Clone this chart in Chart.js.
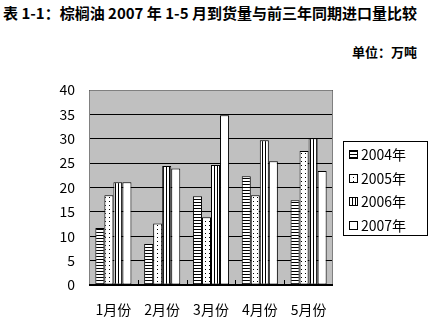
<!DOCTYPE html>
<html>
<head>
<meta charset="utf-8">
<script src="https://cdn.jsdelivr.net/npm/chart.js@4"></script>
<style>
  body { margin: 0; background: #fff; }
  #wrap { position: relative; width: 440px; height: 325px; }
  #title { position: absolute; left: 3px; top: 2px; font: bold 15px "Noto Sans CJK SC", sans-serif; white-space: nowrap; color: #000; transform-origin: 0 0; }
  #unit { position: absolute; left: 352px; top: 42px; font: bold 13px "Noto Sans CJK SC", sans-serif; white-space: nowrap; color: #000; }
  canvas { position: absolute; left: 0; top: 0; }
</style>
</head>
<body>
<div id="wrap">
  <div id="title">表 1-1：棕榈油 2007 年 1-5 月到货量与前三年同期进口量比较</div>
  <div id="unit">单位：万吨</div>
  <canvas id="chart" width="440" height="325"></canvas>
</div>
<script>
// data (万吨)
const months = ["1月份", "2月份", "3月份", "4月份", "5月份"];
const seriesNames = ["2004年", "2005年", "2006年", "2007年"];
const y2004 = [11.7, 8.4, 18.2, 22.3, 17.4];
const y2005 = [18.4, 12.6, 13.9, 18.4, 27.5];
const y2006 = [21.1, 24.4, 24.6, 29.7, 30.1];
const y2007 = [21.1, 23.9, 34.8, 25.4, 23.4];

// squeeze the title into the line if the font runs wide
const titleEl = document.getElementById("title");
const tw = titleEl.getBoundingClientRect().width;
if(tw > 428) titleEl.style.transform = "scaleX(" + (428 / tw) + ")";

// fill patterns
function makePattern(kind){
  const c = document.createElement("canvas");
  const ctx = c.getContext("2d");
  if(kind === "h"){ c.width = 3; c.height = 3; }
  else if(kind === "v"){ c.width = 3; c.height = 3; }
  else if(kind === "dot"){ c.width = 4; c.height = 4; }
  else { c.width = 2; c.height = 2; }
  ctx.fillStyle = "#fff";
  ctx.fillRect(0, 0, c.width, c.height);
  ctx.fillStyle = "#000";
  if(kind === "h") ctx.fillRect(0, 1, 3, 1);
  if(kind === "v") ctx.fillRect(1, 0, 1, 3);
  if(kind === "dot") ctx.fillRect(1, 1, 1, 1);
  return ctx.createPattern(c, "repeat");
}

const fills = [makePattern("h"), makePattern("dot"), makePattern("v"), "#ffffff"];
const values = [y2004, y2005, y2006, y2007];

const datasets = seriesNames.map((name, i) => ({
  label: name,
  data: values[i],
  backgroundColor: fills[i],
  borderColor: "#000",
  borderWidth: 1,
  borderSkipped: false,
  categoryPercentage: 0.74,
  barPercentage: 1.0
}));

const FONT = "Noto Sans CJK SC";

// gray plot background, border, small x ticks, boxed legend
const excelLook = {
  id: "excelLook",
  beforeDraw(chart){
    const {ctx, chartArea: a} = chart;
    ctx.save();
    ctx.fillStyle = "#c0c0c0";
    ctx.fillRect(a.left, a.top, a.right - a.left, a.bottom - a.top);
    ctx.restore();
  },
  afterDatasetsDraw(chart){
    const {ctx, chartArea: a, scales} = chart;
    ctx.save();
    ctx.strokeStyle = "#808080";
    ctx.lineWidth = 1;
    ctx.beginPath();
    ctx.moveTo(a.left + 0.5, a.bottom);
    ctx.lineTo(a.left + 0.5, a.top + 0.5);
    ctx.lineTo(a.right - 0.5, a.top + 0.5);
    ctx.lineTo(a.right - 0.5, a.bottom);
    ctx.stroke();
    // bottom axis + ticks between categories
    ctx.strokeStyle = "#000";
    ctx.beginPath();
    ctx.moveTo(a.left, a.bottom - 0.5);
    ctx.lineTo(a.right, a.bottom - 0.5);
    const x = scales.x;
    const step = (a.right - a.left) / months.length;
    for(let i = 1; i < months.length; i++){
      const px = Math.round(x.getPixelForValue(i) - step / 2) + 0.5;
      ctx.moveTo(px, a.bottom);
      ctx.lineTo(px, a.bottom - 5);
    }
    ctx.stroke();

    // legend box
    const lx = 343, ly = 141, lw = 84, lh = 94;
    ctx.fillStyle = "#fff";
    ctx.fillRect(lx, ly, lw, lh);
    ctx.strokeRect(lx + 0.5, ly + 0.5, lw, lh);
    ctx.font = "14px " + FONT;
    ctx.textBaseline = "middle";
    const rows = [154, 178, 201, 225];
    chart.data.datasets.forEach((ds, i) => {
      const cy = rows[i];
      ctx.fillStyle = ds.backgroundColor;
      ctx.fillRect(349, cy - 4, 9, 9);
      ctx.strokeStyle = "#000";
      ctx.strokeRect(349.5, cy - 3.5, 8, 8);
      ctx.fillStyle = "#000";
      ctx.fillText(ds.label, 361, cy + 1);
    });
    ctx.restore();
  }
};

new Chart(document.getElementById("chart"), {
  type: "bar",
  data: { labels: months, datasets: datasets },
  options: {
    responsive: false,
    animation: false,
    layout: { padding: { left: 0, right: 107, top: 90, bottom: 0 } },
    plugins: {
      legend: { display: false },
      title: { display: false },
      tooltip: { enabled: false }
    },
    scales: {
      x: {
        grid: { display: false, drawTicks: false },
        border: { display: false },
        ticks: { color: "#000", font: { family: FONT, size: 14 }, padding: 16 },
        afterFit(scale){ scale.height = 40; }
      },
      y: {
        min: 0, max: 40,
        grid: { color: "#000", lineWidth: 1, drawTicks: false },
        border: { display: false },
        ticks: { stepSize: 5, color: "#000", font: { family: FONT, size: 14 }, padding: 14 },
        afterFit(scale){ scale.width = 89; }
      }
    }
  },
  plugins: [excelLook]
});
</script>
</body>
</html>
